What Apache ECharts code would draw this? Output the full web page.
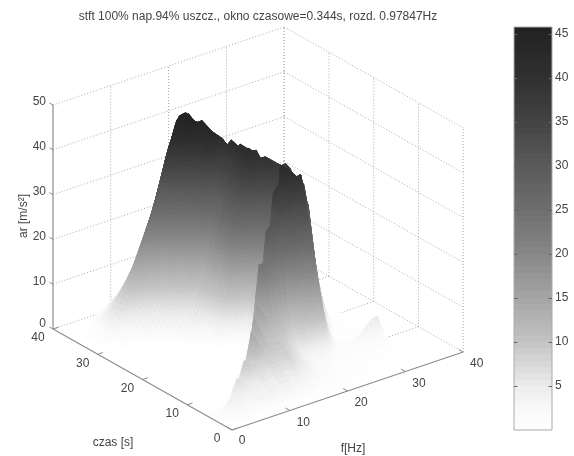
<!DOCTYPE html>
<html><head><meta charset="utf-8">
<style>html,body{margin:0;padding:0;background:#fff}#c{width:574px;height:456px}</style>
<script src="https://cdn.jsdelivr.net/npm/echarts@6/dist/echarts.min.js"></script></head>
<body><div id="c"></div>
<script>
const titleText = 'stft 100% nap.94% uszcz., okno czasowe=0.344s, rozd. 0.97847Hz';
const fTicks = [0,10,20,30,40];
const tTicks = [0,10,20,30,40];
const zTicks = [0,10,20,30,40,50];
const barTicks = [5,10,15,20,25,30,35,40,45];
const cmapZ = [0,2.5,5,10,15,20,25,30,35,40,45,45.8];
const cmapG = [255,248,236,195,165,135,110,90,68,48,36,33];
const fHz = [0,2,4,6,8,10,12,14,16,18,20,22,24,26,28,30,32,33,34];
const tSec = [0,1,2,3,3.2,4,4.2,5,5.2,6,6.2,7,8,8.2,9,10,10.2,11,12,12.2,13,13.2,14,14.2,15,15.2,16,17,18,19,20,21,22,23,24,25,26,27,28,29,30,31,32,33,34,35,36,37,38,39];
const arRows = [
[0,.1,.1,.2,.2,.2,.2,.2,.1,.1,.1,.1,.1,.1,.1,.1,.1,.1,0],
[.2,.5,.8,1,1.2,1.2,1,.8,.6,.4,.3,.2,.1,.1,.1,.1,.1,.1,0],
[.6,2,2,2.5,3,3.5,3,2.5,1.5,1,.6,.4,.2,.1,.1,.1,.1,.1,0],
[1.2,4.5,3.5,3.5,4,5,5,4,2.5,1.5,1,.6,.3,.2,.1,.1,.1,.1,0],
[1.2,2,3.5,3.5,4,5,5,4,2.5,1.5,1,.6,.3,.2,.1,.1,.1,.1,0],
[.8,1.5,7.5,5,5.5,6.5,7,6,3.5,2,1.2,.8,.4,.2,.2,.1,.1,.1,0],
[.8,1.5,3,5,5.5,6.5,7,6,3.5,2,1.2,.8,.4,.2,.2,.1,.1,.1,0],
[.3,1,2,10,8,8,8.5,7.5,5,3,1.5,1,.5,.3,.3,.2,.1,.1,0],
[.3,1,2,4,8,8,8.5,7.5,5,3,1.5,1,.5,.3,.3,.2,.1,.1,0],
[.1,.2,.6,2,15,10,9,8.5,6,3.5,1.8,1.2,.6,.5,.6,.4,.3,.2,.1],
[.1,.2,.6,2,5,10,9,8.5,6,3.5,1.8,1.2,.6,.5,.6,.4,.3,.2,.1],
[.1,.1,.2,1,3,12.5,9.5,9,7,4,2,1.5,1,.8,1,.8,.6,.4,.1],
[.1,.1,.1,.3,1.5,16,10.5,10,8,5,2.5,4,1,1,2,1.5,1,.8,.1],
[.1,.1,.1,.3,1.5,5,10.5,10,8,5,2.5,4,1,1,2,1.5,1,.8,.1],
[.1,.1,.1,.1,.8,3,12.5,11,9.5,6,9,15,3,1,2,3,3,2.5,.2],
[0,.1,.1,.1,.3,1,17,13,12,9,15,22,7,1,1.2,2.5,5,5.2,.2],
[0,.1,.1,.1,.3,1,6,13,12,9,15,22,7,1,1.2,2.5,5,5.2,.2],
[0,0,.1,.1,.1,.3,3,18,16,14,23,29.5,11,1.5,.8,1,2.5,3,.1],
[0,0,.1,.1,.1,.1,.5,24,24,24,31,34,16,2.4,.6,.4,.6,.8,.1],
[0,0,.1,.1,.1,.1,.5,8,24,24,31,34,16,2.4,.6,.4,.6,.8,.1],
[0,0,.1,.1,.1,.1,.2,5,30,33,37,40,23,6,.5,.3,.2,.2,.1],
[0,0,.1,.1,.1,.1,.2,5,14,33,37,40,23,6,.5,.3,.2,.2,.1],
[0,0,.1,.1,.1,.1,.1,1,10,37,41,39,32,10,.8,.3,.2,.2,.1],
[0,0,.1,.1,.1,.1,.1,1,10,18,41,39,32,10,.8,.3,.2,.2,.1],
[0,0,.1,.1,.1,.1,.1,.3,2,6,42,39.5,36,17,1.5,.4,.2,.2,.1],
[0,0,.1,.1,.1,.1,.1,.3,2,6,14,39.5,36,17,1.5,.4,.2,.2,.1],
[0,0,.1,.1,.1,.1,.1,.2,.3,2,5,8,12,24,6,.6,.2,.2,.1],
[0,0,.1,.1,.1,.1,.1,.1,.2,.5,.5,2,24,28,11,1,.2,.2,.1],
[0,0,.1,.1,.1,.1,.1,.1,.1,.2,.5,18,37.8,31,17,1.5,.3,.2,.1],
[0,0,.1,.1,.1,.1,.1,.1,.1,.2,12,31.5,38.3,33,18,4,.4,.2,.1],
[0,0,.1,.1,.1,.1,.1,.1,.1,2,23.7,38,37.3,30,13,3,.3,.2,.1],
[0,0,.1,.1,.1,.1,.1,.1,.4,16.5,36.5,39.6,37.3,20,3,.3,.2,.2,.1],
[0,0,.1,.1,.1,.1,.1,.2,9,30,41.8,38.6,34,18,2.5,.3,.2,.2,.1],
[0,0,.1,.1,.1,.1,.1,1,11,30,40,39.9,32,16,2,.3,.2,.2,.1],
[0,0,.1,.1,.1,.1,.3,2.7,12,30,41.6,39.1,30,15,2,.3,.2,.2,.1],
[0,0,.1,.1,.1,.1,1.6,4.5,13,28,39.8,39.2,30,15,2,.3,.2,.2,.1],
[0,0,.1,.1,.1,.6,3,6.5,13.4,29,41.4,38.2,28,14,1.5,.3,.2,.2,.1],
[0,0,.1,.1,.2,1.6,4.4,7.2,14,29,39.6,37.8,28,14,1.5,.3,.2,.2,.1],
[0,0,.1,.1,1.1,3.3,6,11,24,43.2,40.6,36,26,12,1.2,.3,.2,.2,.1],
[0,0,.1,.6,2.4,5,8.5,17,33,42.4,40.1,34,24,11,1,.3,.2,.2,.1],
[0,0,.3,1.8,4,7,13.5,28,43,44.4,40.7,33,24,11,1,.3,.2,.2,.1],
[0,.1,1,3.2,6,11,23,39,46.4,43,40.9,32,23,10,1,.3,.2,.2,.1],
[0,.2,3,7,13,22,29.4,39,45.4,43.5,37.5,30,20,8,1,.3,.2,.2,.1],
[0,.2,3,7,12.7,18.8,26,35.4,43.6,44.2,36,29,19,7,.8,.3,.2,.1,.1],
[0,.2,2,6.5,10.4,14.9,21.8,29.7,39.3,42.4,35,28,18,6,.7,.3,.2,.1,.1],
[0,.2,1.7,5,8,12.5,19,25.5,35.8,42.6,34,27,18,5,.6,.2,.2,.1,.1],
[0,.1,1.2,3.5,6,9,14.7,22.3,30.3,38.4,32,26,17,4.8,.5,.2,.1,.1,.1],
[0,.1,.7,2,4.4,6.5,11.4,17.7,25.7,35.6,30,24.6,16,4.5,.4,.1,.1,.1,0],
[0,0,.3,1,3,5,8.6,14.9,21.8,31.7,28,23,15,4,.3,.1,.1,.1,0],
[0,0,.1,.3,1.6,3.4,6.3,11,17.9,25,25,20.5,13,3.5,.2,.1,0,0,0]
];

const FONT = '"Liberation Sans", Arial, sans-serif';
const AXC = '#8c8c8c', GRIDC = '#ababab', TXT = '#444';
// oblique projection of the MATLAB 3-D box
function proj(f, t, z) {
  return [232 + f * 5.78 - t * 4.475, 430 - f * 1.95 - t * 2.525 - z * 4.48];
}
function grayOf(z) {
  let i = 0;
  while (i < cmapZ.length - 2 && z > cmapZ[i + 1]) i++;
  const u = Math.min(1, Math.max(0, (z - cmapZ[i]) / (cmapZ[i + 1] - cmapZ[i])));
  const g = Math.round(cmapG[i] + u * (cmapG[i + 1] - cmapG[i]));
  return 'rgb(' + g + ',' + g + ',' + g + ')';
}
const cells = [];
for (let j = tSec.length - 2; j >= 0; j--)
  for (let i = fHz.length - 2; i >= 0; i--) cells.push([i, j]);

function renderCell(params, api) {
  const i = api.value(0), j = api.value(1);
  const f0 = fHz[i], f1 = fHz[i + 1], t0 = tSec[j], t1 = tSec[j + 1];
  const a = arRows[j][i], b = arRows[j][i + 1], c = arRows[j + 1][i], d = arRows[j + 1][i + 1];
  const Z = (u, v) => a * (1 - u) * (1 - v) + b * u * (1 - v) + c * (1 - u) * v + d * u * v;
  const P = (u, v) => api.coord(proj(f0 + (f1 - f0) * u, t0 + (t1 - t0) * v, Z(u, v)));
  const nu = Math.min(20, Math.max(1, Math.ceil(Math.max(Math.abs(b - a), Math.abs(d - c)) / 1)));
  const nv = Math.min(20, Math.max(1, Math.ceil(Math.max(Math.abs(c - a), Math.abs(d - b)) / 1)));
  const children = [];
  for (let m = nv - 1; m >= 0; m--) for (let n = nu - 1; n >= 0; n--) {
    const u0 = n / nu, u1 = (n + 1) / nu, v0 = m / nv, v1 = (m + 1) / nv;
    const col = grayOf(Z((u0 + u1) / 2, (v0 + v1) / 2));
    children.push({ type: 'polygon', shape: { points: [P(u0, v0), P(u1, v0), P(u1, v1), P(u0, v1)] },
      style: { fill: col, stroke: col, lineWidth: 0.7 } });
  }
  return { type: 'group', children };
}
function line(api, a, b, stroke, w, dash) {
  const p = api.coord(a), q = api.coord(b);
  return { type: 'line', shape: { x1: p[0], y1: p[1], x2: q[0], y2: q[1] },
    style: { stroke, lineWidth: w, lineDash: dash || null } };
}
function label(api, pos, text, align, size, rot) {
  const p = api.coord(pos);
  return { type: 'text', x: p[0], y: p[1], rotation: rot || 0,
    style: { text, fill: TXT, font: (size || 12) + 'px ' + FONT, align: align || 'center', verticalAlign: 'middle' } };
}
function renderGuides(params, api) {
  const ch = [], D = [1, 2];
  const Zm = zTicks[zTicks.length - 1];
  zTicks.forEach(z => {
    ch.push(line(api, proj(0, 40, z), proj(40, 40, z), GRIDC, 1, D));
    ch.push(line(api, proj(40, 40, z), proj(40, 0, z), GRIDC, 1, D));
  });
  fTicks.slice(1).forEach(f => ch.push(line(api, proj(f, 40, 0), proj(f, 40, Zm), GRIDC, 1, D)));
  tTicks.forEach(t => ch.push(line(api, proj(40, t, 0), proj(40, t, Zm), GRIDC, 1, D)));
  tTicks.slice(1, -1).forEach(t => ch.push(line(api, proj(0, t, 0), proj(40, t, 0), GRIDC, 1, D)));
  fTicks.slice(1, -1).forEach(f => ch.push(line(api, proj(f, 0, 0), proj(f, 40, 0), GRIDC, 1, D)));
  return { type: 'group', children: ch };
}
function renderAxes(params, api) {
  const ch = [];
  ch.push(line(api, proj(0, 40, 0), proj(0, 40, 50), AXC, 1.2));
  ch.push(line(api, proj(0, 0, 0), proj(0, 40, 0), AXC, 1.2));
  ch.push(line(api, proj(0, 0, 0), proj(40, 0, 0), AXC, 1.2));
  zTicks.forEach(z => {
    ch.push(line(api, proj(0, 40, z), proj(0, 40.8, z), AXC, 1));
    const q = proj(0, 40, z);
    ch.push(label(api, [q[0] - 7, q[1] - (z === 0 ? 5 : 3)], String(z), 'right'));
  });
  tTicks.forEach(t => {
    ch.push(line(api, proj(0, t, 0), proj(0.9, t, 0), AXC, 1));
    const q = proj(0, t, 0);
    ch.push(label(api, [q[0] - 15, q[1] + 9], String(t)));
  });
  fTicks.forEach(f => {
    ch.push(line(api, proj(f, 0, 0), proj(f, 1, 0), AXC, 1));
    const q = proj(f, 0, 0);
    ch.push(label(api, [q[0] + (f === 0 ? 10 : 13.5), q[1] + (f === 0 ? 11 : 12)], String(f)));
  });
  ch.push(label(api, [113, 443], 'czas [s]'));
  ch.push(label(api, [353, 449], 'f[Hz]'));
  ch.push(label(api, [24, 216], 'ar [m/s²]', 'center', 12, Math.PI / 2));
  return { type: 'group', children: ch };
}
const BANDS = 64, barMax = 45.8;
const bandIdx = Array.from({ length: BANDS }, (_, k) => k);
function renderBand(params, api) {
  const k = api.value(0);
  const z0 = k / BANDS * barMax, z1 = (k + 1) / BANDS * barMax;
  const p = api.coord([0, z1]), q = api.coord([1, z0]);
  const col = grayOf((z0 + z1) / 2);
  const top = Math.round(p[1]), bot = Math.round(q[1]);
  return { type: 'rect', shape: { x: p[0], y: top, width: q[0] - p[0], height: bot - top }, style: { fill: col } };
}
function renderBarTicks(params, api) {
  const ch = [];
  barTicks.forEach(v => {
    [[0, 0.09], [0.91, 1]].forEach(r => {
      const p = api.coord([r[0], v]), q = api.coord([r[1], v]);
      const y = Math.round(p[1]) + 0.5;
      ch.push({ type: 'line', shape: { x1: p[0], y1: y, x2: q[0], y2: y }, style: { stroke: '#666', lineWidth: 1 } });
    });
  });
  return { type: 'group', children: ch };
}
const hidden = { show: false };
const chart = echarts.init(document.getElementById('c'), null, { renderer: 'canvas' });
chart.setOption({
  animation: false,
  backgroundColor: '#fff',
  title: { text: titleText, left: 253, top: 6, textAlign: 'center',
    textStyle: { fontFamily: FONT, fontSize: 12, fontWeight: 'normal', color: TXT } },
  grid: [
    { left: 0, top: 0, right: 0, bottom: 0 },
    { left: 514, top: 27, width: 38, height: 403, show: true, borderColor: '#aaa', borderWidth: 1, z: 5 }
  ],
  xAxis: [
    { type: 'value', gridIndex: 0, min: 0, max: 574, ...hidden },
    { type: 'value', gridIndex: 1, min: 0, max: 1, ...hidden }
  ],
  yAxis: [
    { type: 'value', gridIndex: 0, min: 0, max: 456, inverse: true, ...hidden },
    { type: 'value', gridIndex: 1, min: 0, max: barMax, interval: 5, position: 'right', z: 6,
      axisLine: { show: false }, splitLine: { show: false }, axisTick: { show: false },
      axisLabel: { color: TXT, fontFamily: FONT, fontSize: 12, margin: 3, customValues: barTicks } }
  ],
  series: [
    { type: 'custom', xAxisIndex: 0, yAxisIndex: 0, data: [[0, 0]], renderItem: renderGuides, silent: true, clip: false, z: 1 },
    { type: 'custom', xAxisIndex: 0, yAxisIndex: 0, data: cells, renderItem: renderCell, silent: true, clip: false, progressive: 0, z: 2 },
    { type: 'custom', xAxisIndex: 0, yAxisIndex: 0, data: [[0, 0]], renderItem: renderAxes, silent: true, clip: false, z: 3 },
    { type: 'custom', xAxisIndex: 1, yAxisIndex: 1, data: bandIdx.map(k => [k, 0]), renderItem: renderBand, silent: true, clip: false, progressive: 0, z: 4 },
    { type: 'custom', xAxisIndex: 1, yAxisIndex: 1, data: [[0, 0]], renderItem: renderBarTicks, silent: true, clip: false, z: 7 }
  ]
});
</script></body></html>
